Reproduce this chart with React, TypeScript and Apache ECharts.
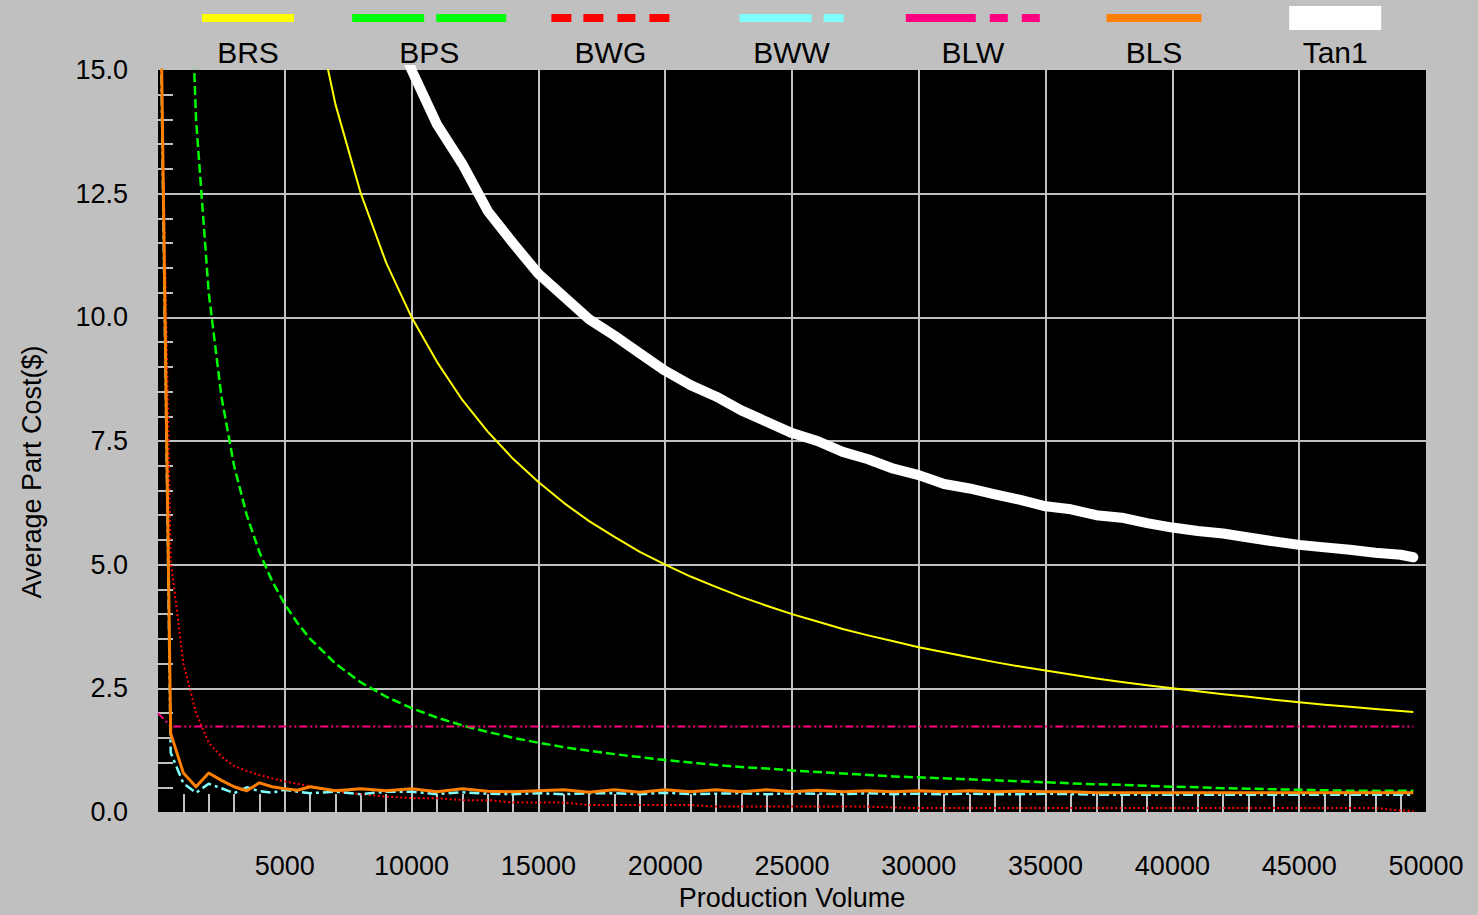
import React, { useEffect, useRef } from "react";
import * as echarts from "echarts";

// Production volume sample points (x positions of every series)
const VOLUME = [
  0, 500, 1000, 1500, 2000, 2500, 3000, 3500, 4000, 4500, 5000, 5500, 6000,
  7000, 8000, 9000, 10000, 11000, 12000, 13000, 14000, 15000, 16000, 17000,
  18000, 19000, 20000, 21000, 22000, 23000, 24000, 25000, 26000, 27000, 28000,
  29000, 30000, 31000, 32000, 33000, 34000, 35000, 36000, 37000, 38000, 39000,
  40000, 41000, 42000, 43000, 44000, 45000, 46000, 47000, 48000, 49000, 49500,
];

// Average part cost ($) per process
const BRS = [
  null, 200, 100, 66.7, 50, 40, 33.3, 28.6, 25, 22.2, 20, 18.2, 16.7,
  14.3, 12.5, 11.1, 10.0, 9.1, 8.33, 7.69, 7.14, 6.67, 6.25, 5.88,
  5.56, 5.26, 5.0, 4.76, 4.55, 4.35, 4.17, 4.0, 3.85, 3.7, 3.57,
  3.45, 3.33, 3.23, 3.13, 3.03, 2.94, 2.86, 2.78, 2.7, 2.63, 2.56,
  2.5, 2.44, 2.38, 2.33, 2.27, 2.22, 2.17, 2.13, 2.08, 2.04, 2.02,
];
const BPS = [
  null, 42, 21, 14.0, 10.5, 8.4, 7.0, 6.0, 5.25, 4.67, 4.2, 3.82, 3.5,
  3.0, 2.62, 2.33, 2.1, 1.91, 1.75, 1.62, 1.5, 1.4, 1.31, 1.24,
  1.17, 1.11, 1.05, 1.0, 0.95, 0.91, 0.88, 0.84, 0.81, 0.78, 0.75,
  0.72, 0.7, 0.68, 0.66, 0.64, 0.62, 0.6, 0.58, 0.56, 0.55, 0.53,
  0.51, 0.5, 0.48, 0.47, 0.46, 0.45, 0.44, 0.43, 0.43, 0.43, 0.43,
];
const BWG = [
  19, 5.1, 3.0, 2.0, 1.4, 1.12, 0.93, 0.83, 0.75, 0.68, 0.62, 0.57, 0.52,
  0.42, 0.36, 0.31, 0.28, 0.28, 0.24, 0.24, 0.19, 0.19, 0.19, 0.14,
  0.14, 0.14, 0.14, 0.14, 0.11, 0.11, 0.11, 0.11, 0.11, 0.11, 0.11,
  0.09, 0.08, 0.08, 0.08, 0.08, 0.08, 0.08, 0.08, 0.08, 0.08, 0.08,
  0.08, 0.08, 0.08, 0.08, 0.08, 0.08, 0.08, 0.08, 0.08, 0.03, 0.02,
];
const BWW = [
  20, 1.2, 0.58, 0.39, 0.57, 0.48, 0.38, 0.5, 0.42, 0.39, 0.45, 0.41, 0.38,
  0.41, 0.36, 0.41, 0.41, 0.36, 0.4, 0.37, 0.36, 0.38, 0.36, 0.38,
  0.38, 0.36, 0.39, 0.36, 0.37, 0.38, 0.36, 0.38, 0.37, 0.36, 0.38,
  0.36, 0.37, 0.36, 0.37, 0.36, 0.36, 0.37, 0.36, 0.35, 0.35, 0.35,
  0.35, 0.35, 0.35, 0.35, 0.35, 0.35, 0.35, 0.35, 0.35, 0.35, 0.35,
];
const BLW = [
  2.0, 1.73, 1.73, 1.73, 1.73, 1.73, 1.73, 1.73, 1.73, 1.73, 1.73, 1.73, 1.73,
  1.73, 1.73, 1.73, 1.73, 1.73, 1.73, 1.73, 1.73, 1.73, 1.73, 1.73,
  1.73, 1.73, 1.73, 1.73, 1.73, 1.73, 1.73, 1.73, 1.73, 1.73, 1.73,
  1.73, 1.73, 1.73, 1.73, 1.73, 1.73, 1.73, 1.73, 1.73, 1.73, 1.73,
  1.73, 1.73, 1.73, 1.73, 1.73, 1.73, 1.73, 1.73, 1.73, 1.73, 1.73,
];
const BLS = [
  20.5, 1.59, 0.79, 0.51, 0.79, 0.64, 0.51, 0.43, 0.59, 0.51, 0.47, 0.44, 0.51,
  0.43, 0.47, 0.43, 0.47, 0.41, 0.47, 0.42, 0.41, 0.43, 0.45, 0.4,
  0.45, 0.4, 0.45, 0.41, 0.45, 0.41, 0.45, 0.41, 0.44, 0.41, 0.43,
  0.41, 0.43, 0.41, 0.43, 0.41, 0.42, 0.41, 0.41, 0.39, 0.39, 0.39,
  0.39, 0.39, 0.39, 0.39, 0.39, 0.39, 0.39, 0.39, 0.39, 0.39, 0.39,
];
const TAN1 = [
  null, null, null, null, null, null, null, null, null, null, null, null, null,
  null, null, 16.4, 15.0, 13.9, 13.1, 12.15, 11.5, 10.88, 10.42, 9.96,
  9.63, 9.27, 8.92, 8.63, 8.4, 8.12, 7.89, 7.66, 7.5, 7.28, 7.13,
  6.94, 6.81, 6.63, 6.54, 6.42, 6.31, 6.18, 6.12, 6.0, 5.95, 5.84,
  5.75, 5.68, 5.63, 5.55, 5.47, 5.4, 5.35, 5.3, 5.24, 5.2, 5.15,
];

const SERIES_NAMES = ["BRS", "BPS", "BWG", "BWW", "BLW", "BLS", "Tan1"];
const SERIES_VALUES = [BRS, BPS, BWG, BWW, BLW, BLS, TAN1];

const X_AXIS_TITLE = "Production Volume";
const Y_AXIS_TITLE = "Average Part Cost($)";

// Line appearance for each process, plus the segments of its key sample
const STYLES = [
  { color: "#ffff00", width: 2, dash: "solid" as any, key: [92] },
  { color: "#00ff00", width: 2.5, dash: [9, 4], key: [72, 12, 70] },
  { color: "#ff0000", width: 2, dash: [2, 2.5], key: [20, 12, 20, 14, 18, 14, 20] },
  { color: "#80ffff", width: 2.5, dash: [10, 4, 3, 4], key: [72, 12, 20] },
  { color: "#ff0080", width: 2, dash: [8, 3, 2, 3, 2, 3], key: [70, 14, 18, 14, 18] },
  { color: "#ff8000", width: 3, dash: "solid" as any, key: [95] },
  { color: "#ffffff", width: 10, dash: "solid" as any, key: [92] },
];

const FONT = '"Liberation Sans", Arial, sans-serif';
const GRID = { left: 158, top: 70, right: 52, bottom: 103 };

function buildKey() {
  const items: any[] = [];
  const firstX = 248;
  const step = 181.2;
  SERIES_NAMES.forEach((name, i) => {
    const cx = firstX + i * step;
    const st = STYLES[i];
    const total = st.key.reduce((a, b) => a + b, 0);
    let x = cx - total / 2;
    const thick = name === "Tan1";
    st.key.forEach((len, k) => {
      if (k % 2 === 0) {
        items.push({
          type: "rect",
          shape: { x, y: thick ? 6 : 14, width: len, height: thick ? 24 : 8 },
          style: { fill: st.color },
          silent: true,
        });
      }
      x += len;
    });
    items.push({
      type: "text",
      x: cx,
      y: 52,
      style: {
        text: name,
        fill: "#000",
        font: `30px ${FONT}`,
        align: "center",
        verticalAlign: "middle",
      },
      silent: true,
    });
  });
  return items;
}

export default function App() {
  const ref = useRef<HTMLDivElement>(null);

  useEffect(() => {
    if (!ref.current) return;
    const chart = echarts.init(ref.current, null, { renderer: "svg" });

    const series = SERIES_NAMES.map((name, i) => {
      const st = STYLES[i];
      return {
        name,
        type: "line",
        data: VOLUME.map((v, j) => [v, SERIES_VALUES[i][j]]),
        showSymbol: false,
        symbol: "none",
        clip: true,
        connectNulls: false,
        lineStyle: {
          color: st.color,
          width: st.width,
          type: st.dash,
          cap: name === "Tan1" ? "round" : "butt",
          join: "round",
        },
        emphasis: { disabled: true },
        z: 2 + i,
      };
    });

    chart.setOption({
      animation: false,
      backgroundColor: "#c0c0c0",
      grid: {
        ...GRID,
        show: true,
        backgroundColor: "#000000",
        borderWidth: 0,
        containLabel: false,
        outerBoundsMode: "none",
      },
      xAxis: {
        type: "value",
        min: 0,
        max: 50000,
        interval: 5000,
        axisLine: { show: false },
        axisTick: { show: false, inside: true },
        minorTick: {
          show: true,
          splitNumber: 5,
          length: 18,
          lineStyle: { color: "#c0c0c0", width: 2 },
        },
        splitLine: {
          show: true,
          showMinLine: false,
          showMaxLine: false,
          lineStyle: { color: "#c0c0c0", width: 2 },
        },
        axisLabel: {
          margin: 40,
          color: "#000",
          fontSize: 27,
          fontFamily: FONT,
          formatter: (v: number) => (v === 0 ? "" : String(v)),
        },
      },
      yAxis: {
        type: "value",
        min: 0,
        max: 15,
        interval: 2.5,
        axisLine: { show: false },
        axisTick: { show: false, inside: true },
        minorTick: {
          show: true,
          splitNumber: 5,
          length: 15,
          lineStyle: { color: "#c0c0c0", width: 2 },
        },
        splitLine: {
          show: true,
          showMinLine: false,
          showMaxLine: false,
          lineStyle: { color: "#c0c0c0", width: 2 },
        },
        axisLabel: {
          margin: 30,
          color: "#000",
          fontSize: 27,
          fontFamily: FONT,
          formatter: (v: number) => v.toFixed(1),
        },
      },
      graphic: [
        ...buildKey(),
        {
          type: "text",
          x: 792,
          y: 898,
          style: {
            text: X_AXIS_TITLE,
            fill: "#000",
            font: `27px ${FONT}`,
            align: "center",
            verticalAlign: "middle",
          },
          silent: true,
        },
        {
          type: "text",
          x: 32,
          y: 472,
          rotation: Math.PI / 2,
          style: {
            text: Y_AXIS_TITLE,
            fill: "#000",
            font: `27px ${FONT}`,
            align: "center",
            verticalAlign: "middle",
          },
          silent: true,
        },
      ],
      series,
    });

    return () => chart.dispose();
  }, []);

  return (
    <div
      ref={ref}
      style={{ position: "fixed", left: 0, top: 0, width: 1478, height: 915 }}
    />
  );
}
